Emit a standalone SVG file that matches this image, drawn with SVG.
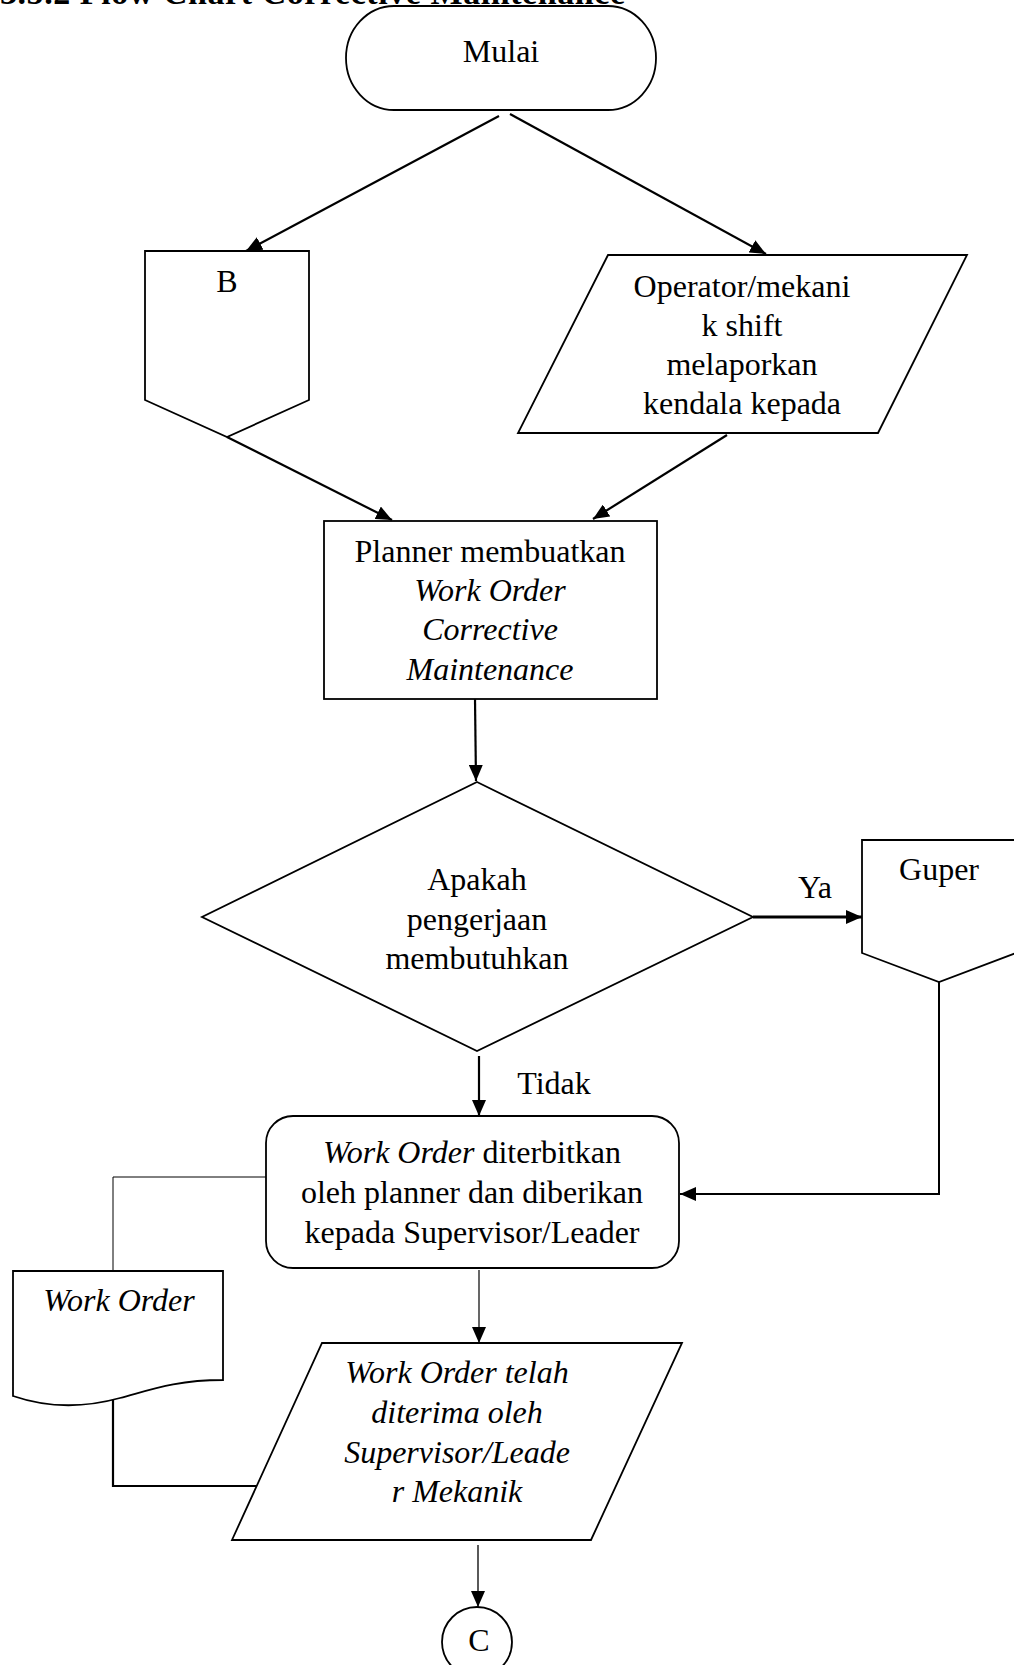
<svg xmlns="http://www.w3.org/2000/svg" width="1014" height="1665" viewBox="0 0 1014 1665">
<defs>
<style>
.shape{fill:#fff;stroke:#000;stroke-width:1.8}
.t{font-family:"Liberation Serif","Times New Roman",serif;font-size:32px;fill:#000;text-anchor:middle}
.i{font-style:italic}
.c{fill:none;stroke:#000}
</style>
<marker id="ah" viewBox="0 0 16 14" refX="16" refY="7" markerWidth="16" markerHeight="14" markerUnits="userSpaceOnUse" orient="auto">
<path d="M0,0 L16,7 L0,14 Z" fill="#000"/>
</marker>
</defs>
<rect width="1014" height="1665" fill="#fff"/>
<text x="0" y="4" font-family="Liberation Serif, serif" font-size="34" font-weight="bold" textLength="625" lengthAdjust="spacing">3.5.2 Flow Chart Corrective Maintenance</text>

<g id="connectors">
<line class="c" x1="499" y1="116" x2="246" y2="251" stroke-width="2.2" marker-end="url(#ah)"/>
<line class="c" x1="510" y1="114" x2="766" y2="254" stroke-width="2.2" marker-end="url(#ah)"/>
<line class="c" x1="227" y1="437" x2="392" y2="520" stroke-width="2.2" marker-end="url(#ah)"/>
<line class="c" x1="727" y1="435" x2="593" y2="519" stroke-width="2.2" marker-end="url(#ah)"/>
<line class="c" x1="475" y1="699" x2="476" y2="781" stroke-width="2.2" marker-end="url(#ah)"/>
<line class="c" x1="753" y1="917" x2="862" y2="917" stroke-width="3" marker-end="url(#ah)"/>
<line class="c" x1="479" y1="1056" x2="479" y2="1116" stroke-width="2.2" marker-end="url(#ah)"/>
<polyline class="c" points="939,982 939,1194 680,1194" stroke-width="2" marker-end="url(#ah)"/>
<polyline class="c" points="266,1177 113,1177 113,1271" stroke-width="1"/>
<polyline class="c" points="113,1400 113,1486 258,1486" stroke-width="2.2"/>
<line class="c" x1="479" y1="1270" x2="479" y2="1343" stroke-width="1.2" marker-end="url(#ah)"/>
<line class="c" x1="478" y1="1545" x2="478" y2="1607" stroke-width="1.3" marker-end="url(#ah)"/>
<text class="t" x="815" y="898">Ya</text>
<text class="t" x="554" y="1094">Tidak</text>
</g>

<g id="mulai">
<rect class="shape" x="346" y="6" width="310" height="104" rx="48" ry="52"/>
<text class="t" x="501" y="62">Mulai</text>
</g>

<g id="b">
<polygon class="shape" points="145,251 309,251 309,400 227,437 145,400"/>
<text class="t" x="227" y="292">B</text>
</g>

<g id="operator">
<polygon class="shape" points="608,255 967,255 878,433 518,433"/>
<text class="t" x="742" y="297">Operator/mekani</text>
<text class="t" x="742" y="336">k shift</text>
<text class="t" x="742" y="375">melaporkan</text>
<text class="t" x="742" y="414">kendala kepada</text>
</g>

<g id="planner">
<rect class="shape" x="324" y="521" width="333" height="178"/>
<text class="t" x="490" y="562">Planner membuatkan</text>
<text class="t i" x="490" y="601">Work Order</text>
<text class="t i" x="490" y="640">Corrective</text>
<text class="t i" x="490" y="680">Maintenance</text>
</g>

<g id="decision">
<polygon class="shape" points="477,782 753,917 477,1051 202,917"/>
<text class="t" x="477" y="890">Apakah</text>
<text class="t" x="477" y="930">pengerjaan</text>
<text class="t" x="477" y="969">membutuhkan</text>
</g>

<g id="guper">
<polygon class="shape" points="862,840 1016,840 1016,953 939,982 862,953"/>
<text class="t" x="939" y="880">Guper</text>
</g>

<g id="wo-issued">
<rect class="shape" x="266" y="1116" width="413" height="152" rx="27" ry="27"/>
<text class="t" x="472" y="1163"><tspan class="i">Work Order</tspan> diterbitkan</text>
<text class="t" x="472" y="1203">oleh planner dan diberikan</text>
<text class="t" x="472" y="1243">kepada Supervisor/Leader</text>
</g>

<g id="wo-doc">
<path class="shape" d="M13,1271 H223 V1380 C175,1380 150,1390 120,1398 C80,1409 45,1407 13,1396 Z"/>
<text class="t i" x="119" y="1311">Work Order</text>
</g>

<g id="wo-received">
<polygon class="shape" points="322,1343 682,1343 591,1540 232,1540"/>
<text class="t i" x="457" y="1383">Work Order telah</text>
<text class="t i" x="457" y="1423">diterima oleh</text>
<text class="t i" x="457" y="1463">Supervisor/Leade</text>
<text class="t i" x="457" y="1502">r Mekanik</text>
</g>

<g id="c">
<ellipse class="shape" cx="477" cy="1642" rx="35" ry="35"/>
<text class="t" x="479" y="1651" font-size="24">C</text>
</g>
</svg>
